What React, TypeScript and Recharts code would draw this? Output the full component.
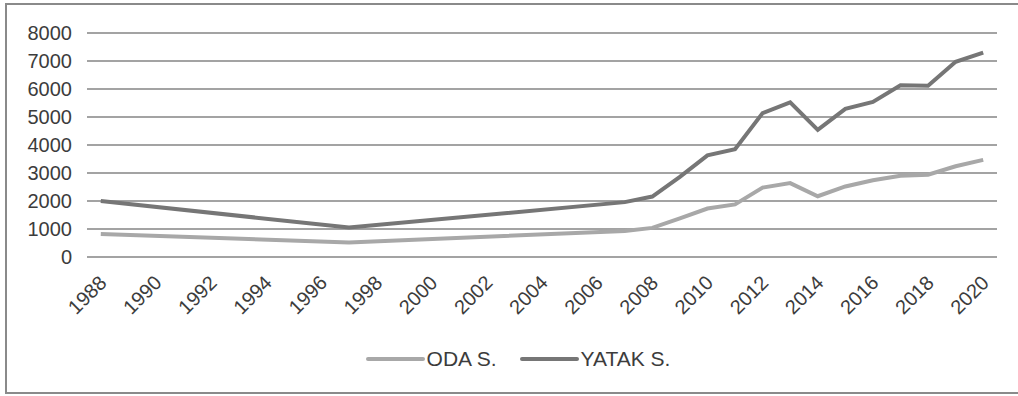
import { LineChart, Line, XAxis, YAxis, CartesianGrid, Legend } from 'recharts';

const years = [1988, 1997, 2007, 2008, 2009, 2010, 2011, 2012, 2013, 2014, 2015, 2016, 2017, 2018, 2019, 2020];
const odaValues = [820, 520, 930, 1040, 1380, 1730, 1880, 2480, 2640, 2170, 2520, 2740, 2900, 2940, 3240, 3470];
const yatakValues = [2000, 1050, 1960, 2160, 2860, 3630, 3850, 5140, 5520, 4540, 5290, 5540, 6130, 6120, 6970, 7300];
const xTicks = [1988, 1990, 1992, 1994, 1996, 1998, 2000, 2002, 2004, 2006, 2008, 2010, 2012, 2014, 2016, 2018, 2020];
const yTicks = [0, 1000, 2000, 3000, 4000, 5000, 6000, 7000, 8000];

const data = years.map((year, i) => ({ year, oda: odaValues[i], yatak: yatakValues[i] }));

const FONT = '"Liberation Sans", Arial, sans-serif';
const TEXT = '#3c3c3c';
const LIGHT = '#a8a8a8';
const DARK = '#767676';

function YearTick({ x, y, payload }: any) {
  const ax = x + 7;
  const ay = y + 27;
  return (
    <text x={ax} y={ay} transform={`rotate(-45 ${ax} ${ay})`} textAnchor="end" fill={TEXT} fontSize={20} fontFamily={FONT}>
      {payload.value}
    </text>
  );
}

function ChartLegend() {
  const item = (color: string, label: string, ml: number) => (
    <div style={{ display: 'flex', alignItems: 'center', marginLeft: ml }}>
      <div style={{ width: 59, height: 4, background: color, borderRadius: 2 }} />
      <span style={{ marginLeft: 2, fontSize: 21, color: TEXT, fontFamily: FONT }}>{label}</span>
    </div>
  );
  return (
    <div style={{ height: 24, display: 'flex', justifyContent: 'center', alignItems: 'center', paddingLeft: 18 }}>
      {item(LIGHT, 'ODA S.', 0)}
      {item(DARK, 'YATAK S.', 23)}
    </div>
  );
}

export default function App() {
  return (
    <div style={{ position: 'absolute', left: 0, top: 0, width: 1018, height: 396, background: '#fff', overflow: 'hidden' }}>
      <div style={{ position: 'absolute', left: 5, top: 3, width: 1030, height: 387, border: '2px solid #8a8a8a' }} />
      <div style={{ position: 'absolute', left: 0, top: 0 }}>
        <LineChart width={1018} height={396} data={data} margin={{ top: 33, right: 21, left: 7, bottom: 25 }}>
          <CartesianGrid horizontal vertical={false} stroke="#858585" strokeWidth={1.5} />
          <XAxis
            dataKey="year"
            type="number"
            domain={[1987.5, 2020.5]}
            ticks={xTicks}
            interval={0}
            axisLine={false}
            tickLine={false}
            tickSize={0}
            tickMargin={0}
            height={90}
            tick={<YearTick />}
          />
          <YAxis
            domain={[0, 8000]}
            ticks={yTicks}
            width={80}
            axisLine={false}
            tickLine={false}
            tickSize={0}
            tickMargin={15}
            tick={{ fill: TEXT, fontSize: 20, fontFamily: FONT }}
          />
          <Legend verticalAlign="bottom" height={24} wrapperStyle={{ left: 0, width: 1018 }} content={() => <ChartLegend />} />
          <Line dataKey="oda" name="ODA S." stroke={LIGHT} strokeWidth={4} dot={false} isAnimationActive={false} />
          <Line dataKey="yatak" name="YATAK S." stroke={DARK} strokeWidth={4} dot={false} isAnimationActive={false} />
        </LineChart>
      </div>
    </div>
  );
}
